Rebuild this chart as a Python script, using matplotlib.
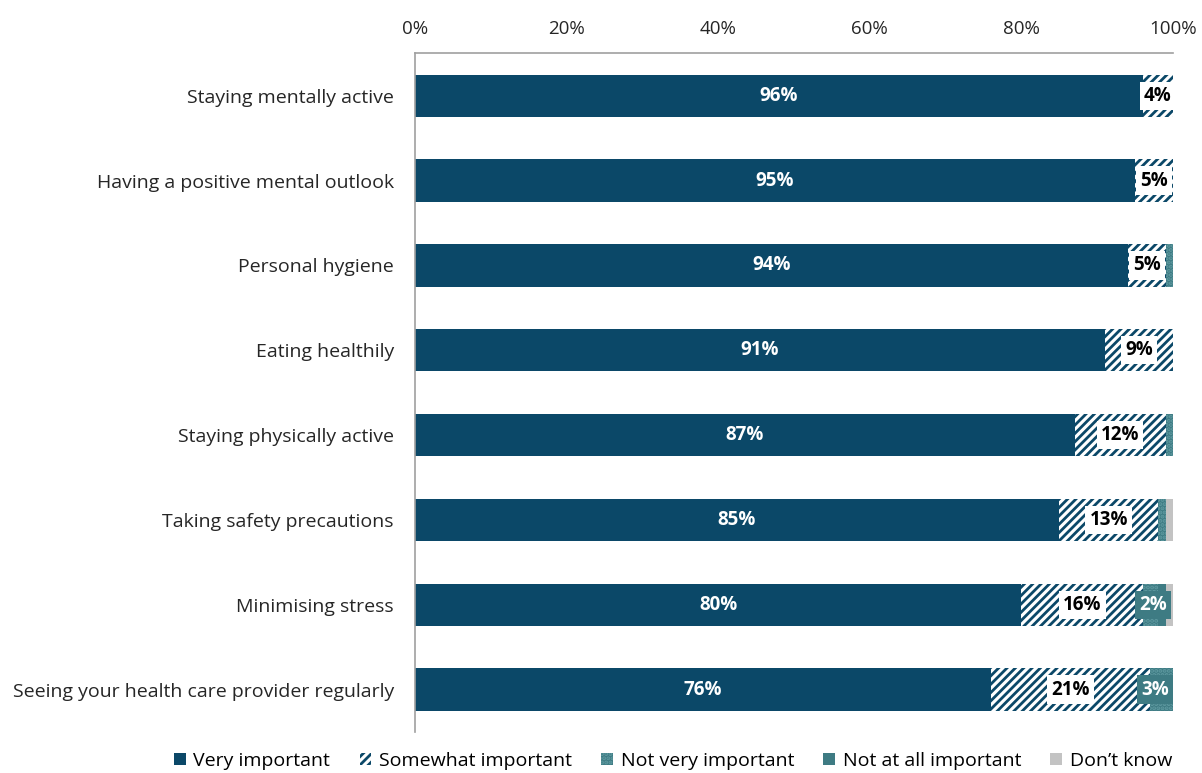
import numpy as np
import matplotlib.pyplot as plt
import matplotlib as mpl

plt.rcParams['font.family'] = ['Open Sans', 'DejaVu Sans']
mpl.rcParams['hatch.linewidth'] = 2.0

categories = ["Staying mentally active", "Having a positive mental outlook", "Personal hygiene",
              "Eating healthily", "Staying physically active", "Taking safety precautions",
              "Minimising stress", "Seeing your health care provider regularly"]
very_important = [96, 95, 94, 91, 87, 85, 80, 76]
somewhat_important = [4, 5, 5, 9, 12, 13, 16, 21]
not_very_important = [0, 0, 1, 0, 1, 1, 2, 3]
not_at_all_important = [0, 0, 0, 0, 0, 0, 1, 0]
dont_know = [0, 0, 0, 0, 0, 1, 1, 0.5]
series_names = ["Very important", "Somewhat important", "Not very important",
                "Not at all important", "Don\u2019t know"]

navy = "#0b4868"
teal = "#3e7b83"
grey = "#c3c3c3"

fig = plt.figure(figsize=(12.02, 7.73), dpi=100)
ax = fig.add_axes([0.345, 0.053, 0.631, 0.878])

y = np.arange(len(categories))
h = 0.5
left = np.zeros(len(categories))

b1 = ax.barh(y, very_important, h, left=left, color=navy, label=series_names[0])
left += very_important
b2 = ax.barh(y, somewhat_important, h, left=left, color="white", edgecolor=navy,
             hatch="////", linewidth=0, label=series_names[1])
left += somewhat_important
b3 = ax.barh(y, not_very_important, h, left=left, color=teal, edgecolor="#5f9aa1",
             hatch="....", linewidth=0, label=series_names[2])
left += not_very_important
b4 = ax.barh(y, not_at_all_important, h, left=left, color=teal, label=series_names[3])
left += not_at_all_important
b5 = ax.barh(y, dont_know, h, left=left, color=grey, label=series_names[4])

# data labels
for i in range(len(categories)):
    v = very_important[i]
    ax.text(v / 2, y[i], f"{v}%", ha="center", va="center", color="white",
            fontsize=13.5, fontweight="bold")
    s = somewhat_important[i]
    ax.text(v + s / 2, y[i], f"{s}%", ha="center", va="center", color="black",
            fontsize=13.5, fontweight="bold",
            bbox=dict(facecolor="white", edgecolor="none", pad=3))
    n = not_very_important[i]
    if n >= 2:
        ax.text(min(v + s + n / 2 + 0.4, 97.6), y[i], f"{n}%", ha="center", va="center",
                color="white", fontsize=13.5, fontweight="bold",
                bbox=dict(facecolor=teal, edgecolor="none", pad=3))

ax.set_xlim(0, 100)
ax.set_ylim(len(categories) - 0.5, -0.5)
ax.set_yticks(y)
ax.set_yticklabels(categories, fontsize=14, color="#262626")
ax.set_xticks(np.arange(0, 101, 20))
ax.set_xticklabels([f"{t}%" for t in range(0, 101, 20)], fontsize=13.5, color="#262626")
ax.xaxis.tick_top()
ax.tick_params(axis="both", length=0)
ax.tick_params(axis="x", pad=11)
ax.tick_params(axis="y", pad=15)
for side in ["right", "bottom"]:
    ax.spines[side].set_visible(False)
for side in ["top", "left"]:
    ax.spines[side].set_color("#a0a0a0")
    ax.spines[side].set_linewidth(1.2)

fig.legend(handles=[b1, b2, b3, b4, b5], loc="center", bbox_to_anchor=(0.56, 0.016),
           ncol=5, frameon=False, fontsize=14, handlelength=0.6, handleheight=0.6,
           columnspacing=1.5, handletextpad=0.4, borderpad=0.1)

fig.savefig("out.png", dpi=100)
